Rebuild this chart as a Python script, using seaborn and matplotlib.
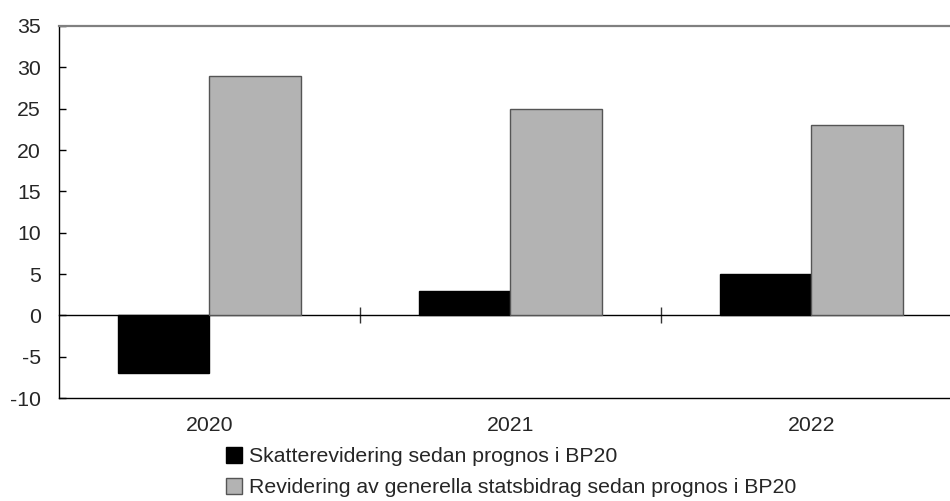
import matplotlib
matplotlib.use("Agg")
import matplotlib.pyplot as plt
import seaborn as sns
import pandas as pd
from matplotlib.patches import Patch

years = ["2020", "2021", "2022"]
series_names = ["Skatterevidering sedan prognos i BP20",
                "Revidering av generella statsbidrag sedan prognos i BP20"]
skatt = [-7, 3, 5]
statsbidrag = [29, 25, 23]
y_ticks = [-10, -5, 0, 5, 10, 15, 20, 25, 30, 35]

df = pd.DataFrame({
    "År": years * 2,
    "Serie": [series_names[0]] * 3 + [series_names[1]] * 3,
    "Värde": skatt + statsbidrag,
})

sns.set_theme(style="white")
plt.rcParams["font.family"] = ["Liberation Sans", "DejaVu Sans"]
plt.rcParams["axes.unicode_minus"] = False

FS = 15.3

fig = plt.figure(figsize=(9.5, 5.01), dpi=100)
ax = fig.add_axes([59/950, 103/501, (962-59)/950, (398-26)/501])

colors = ["#000000", "#b3b3b3"]
sns.barplot(data=df, x="År", y="Värde", hue="Serie", hue_order=series_names,
            palette=colors, width=0.61, ax=ax, legend=False, saturation=1)
edge = ["#000000", "#555555"]
for i, cont in enumerate(ax.containers):
    for p in cont:
        p.set_edgecolor(edge[i])
        p.set_linewidth(1.0)

ax.set_xlim(-0.5, 2.5)
ax.set_ylim(-10, 35)
ax.set_yticks(y_ticks)
ax.set_xlabel("")
ax.set_ylabel("")
ax.tick_params(axis="y", direction="in", length=5, width=1, color="black",
               labelsize=FS, pad=13, left=True)
ax.tick_params(axis="x", length=0, labelsize=FS, pad=13)

for s in ["left", "bottom"]:
    ax.spines[s].set_color("black")
    ax.spines[s].set_linewidth(1)
ax.spines["right"].set_visible(False)
ax.spines["top"].set_color("#808080")
ax.spines["top"].set_linewidth(1.6)

# zero line with group separators
zero_frac = (0 - (-10)) / 45
sec = ax.secondary_xaxis(zero_frac)
sec.set_xticks([0.5, 1.5])
sec.set_xticklabels([])
sec.tick_params(axis="x", direction="inout", length=12, width=1, color="#333333")
sec.spines["bottom"].set_color("black")
sec.spines["bottom"].set_linewidth(1)
sec.spines["top"].set_color("black")
sec.spines["top"].set_linewidth(1)

handles = [Patch(facecolor=colors[0], edgecolor=edge[0], label=series_names[0]),
           Patch(facecolor=colors[1], edgecolor=edge[1], label=series_names[1])]
fig.legend(handles=handles, loc="upper left", bbox_to_anchor=(226/950, 1 - 447/501),
           frameon=False, fontsize=FS, handlelength=0.75, handleheight=0.75,
           handletextpad=0.33, labelspacing=0.56, borderaxespad=0, borderpad=0)

fig.savefig("out.png", dpi=100)
